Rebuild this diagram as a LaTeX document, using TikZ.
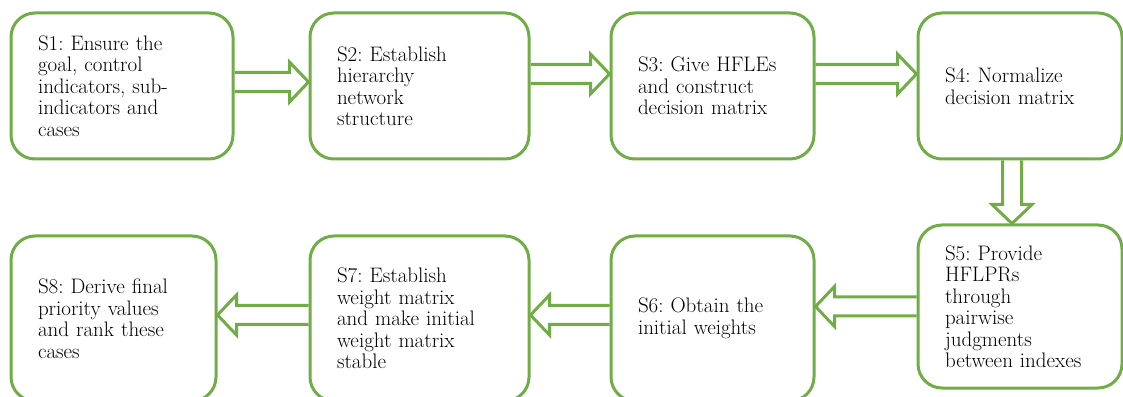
\documentclass[tikz,border=0pt]{standalone}
\usetikzlibrary{calc}

\definecolor{stepgreen}{RGB}{112,173,71}

\tikzset{
  stepbox/.style={draw=stepgreen, line width=3pt, rounded corners=24pt, fill=white,
    align=left, inner xsep=27pt, inner ysep=0pt, text=black,
    font=\fontsize{21pt}{21.5pt}\selectfont\frenchspacing},
  flowarrow/.style={draw=stepgreen, line width=3pt, line join=miter}
}

% hollow block arrow from #1 to #2
\newcommand\blockarrow[2]{%
  \coordinate (ba-s) at (#1);
  \coordinate (ba-e) at (#2);
  \coordinate (ba-h) at ($(ba-e)!19pt!(ba-s)$);
  \draw [flowarrow] ($(ba-s)!9.5pt!90:(ba-e)$) -- ($(ba-h)!9.5pt!-90:(ba-s)$)
    -- ($(ba-h)!20pt!-90:(ba-s)$) -- (ba-e) -- ($(ba-h)!20pt!90:(ba-s)$)
    -- ($(ba-h)!9.5pt!90:(ba-s)$) -- ($(ba-s)!9.5pt!-90:(ba-e)$);
}

\begin{document}
\begin{tikzpicture}[x=1pt,y=1pt]

\clip (0,0) rectangle (1123,396);

% top row
\node [stepbox, minimum width=222pt, minimum height=146pt, text width=168pt] (s1) at (122,310)
  {S1: Ensure the\\goal, control\\indicators, sub-\\indicators and\\cases};
\node [stepbox, minimum width=219pt, minimum height=146pt, text width=165pt] (s2) at (419.5,310)
  {S2: Establish\\hierarchy\\network\\structure};
\node [stepbox, minimum width=203pt, minimum height=146pt, text width=149pt] (s3) at (712.5,310)
  {S3: Give HFLEs\\and construct\\decision matrix};
\node [stepbox, minimum width=204pt, minimum height=146pt, text width=150pt] (s4) at (1020,310)
  {S4: Normalize\\decision matrix};

% bottom row
\node [stepbox, minimum width=204pt, minimum height=163pt, text width=150pt] (s5) at (1020,89.5)
  {S5: Provide\\HFLPRs\\through\\pairwise\\judgments\\between indexes};
\node [stepbox, minimum width=203pt, minimum height=165pt, text width=149pt] (s6) at (712.5,77.5)
  {S6: Obtain the\\initial weights};
\node [stepbox, minimum width=219pt, minimum height=165pt, text width=165pt] (s7) at (419.5,77.5)
  {S7: Establish\\weight matrix\\and make initial\\weight matrix\\stable};
\node [stepbox, minimum width=205pt, minimum height=165pt, text width=151pt] (s8) at (113.5,77.5)
  {S8: Derive final\\priority values\\and rank these\\cases};

\blockarrow{$(s1.east)+(0,4)$}{$(s2.west)+(0,4)$}
\blockarrow{$(s2.east)+(0,12)$}{$(s3.west)+(0,12)$}
\blockarrow{$(s3.east)+(0,12)$}{$(s4.west)+(0,12)$}
\blockarrow{$(s4.south)+(-8,0)$}{$(s5.north)+(-8,0)$}
\blockarrow{s5.west}{s6.east |- s5.west}
\blockarrow{$(s6.west)+(0,3.5)$}{$(s7.east)+(0,3.5)$}
\blockarrow{$(s7.west)+(0,3.5)$}{$(s8.east)+(0,3.5)$}

\end{tikzpicture}
\end{document}
